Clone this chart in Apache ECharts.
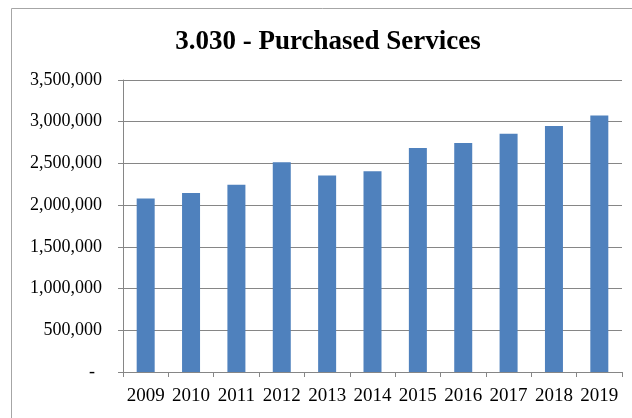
<!DOCTYPE html>
<html>
<head>
<meta charset="utf-8">
<script src="https://cdn.jsdelivr.net/npm/echarts@6/dist/echarts.min.js"></script>
<style>
  html, body { margin: 0; padding: 0; background: #ffffff; }
  #chart { width: 632px; height: 418px; }
</style>
</head>
<body>
<div id="chart"></div>
<script>
// Fiscal years and annual purchased-services spending
const years = ['2009', '2010', '2011', '2012', '2013', '2014', '2015', '2016', '2017', '2018', '2019'];
const spending = [2080000, 2145000, 2245000, 2515000, 2355000, 2405000, 2685000, 2745000, 2855000, 2950000, 3075000];
const titleText = '3.030 - Purchased Services';
const yMin = 0;
const yMax = 3500000;
const yStep = 500000;

const serif = '"Liberation Serif", "Times New Roman", serif';

const chart = echarts.init(document.getElementById('chart'), null, { renderer: 'canvas' });

chart.setOption({
  backgroundColor: '#ffffff',
  animation: false,
  title: {
    text: titleText,
    left: 323,
    top: 24,
    textAlign: 'center',
    textStyle: {
      fontFamily: serif,
      fontWeight: 'bold',
      fontSize: 27,
      color: '#000000'
    }
  },
  graphic: [{
    type: 'rect',
    silent: true,
    shape: { x: 11.5, y: 8.5, width: 800, height: 600 },
    style: { fill: 'none', stroke: '#a6a6a6', lineWidth: 1 }
  }],
  grid: {
    left: 123,
    right: 10,
    top: 80,
    bottom: 46,
    containLabel: false
  },
  xAxis: {
    type: 'category',
    data: years,
    axisLine: { show: true, lineStyle: { color: '#868686', width: 1 } },
    axisTick: { show: true, alignWithLabel: false, length: 5, lineStyle: { color: '#868686' } },
    axisLabel: {
      margin: 15,
      fontFamily: serif,
      fontSize: 19,
      color: '#000000',
      interval: 0
    },
    splitLine: { show: false }
  },
  yAxis: {
    type: 'value',
    min: yMin,
    max: yMax,
    interval: yStep,
    axisLine: { show: true, lineStyle: { color: '#868686', width: 1 } },
    axisTick: { show: true, length: 5, lineStyle: { color: '#868686' } },
    splitLine: { show: true, lineStyle: { color: '#868686', width: 1 } },
    axisLabel: {
      margin: 21,
      fontFamily: serif,
      fontSize: 18,
      color: '#000000',
      formatter: function (v) {
        if (v === 0) return '{z|-}';
        return v.toLocaleString('en-US');
      },
      rich: {
        z: { fontFamily: serif, fontSize: 18, color: '#000000', padding: [0, 7, 0, 0] }
      }
    }
  },
  series: [{
    type: 'bar',
    data: spending,
    barWidth: 18,
    itemStyle: { color: '#4f81bd' }
  }]
});
</script>
</body>
</html>
